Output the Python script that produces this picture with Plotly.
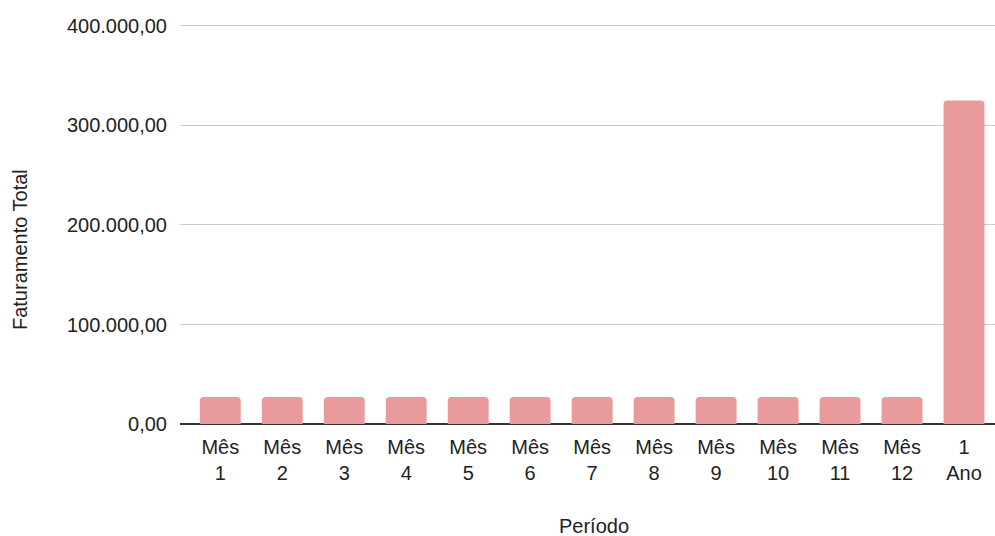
import plotly.graph_objects as go

categories = ["Mês<br>1", "Mês<br>2", "Mês<br>3", "Mês<br>4", "Mês<br>5", "Mês<br>6",
              "Mês<br>7", "Mês<br>8", "Mês<br>9", "Mês<br>10", "Mês<br>11", "Mês<br>12",
              "1<br>Ano"]
faturamento = [27083.33] * 12 + [325000]
y_tickvals = [0, 100000, 200000, 300000, 400000]
y_ticktext = ["0,00", "100.000,00", "200.000,00", "300.000,00", "400.000,00"]
x_title = "Período"
y_title = "Faturamento Total"

FONT = "Liberation Sans, Arial, sans-serif"
FS = 20

fig = go.Figure(go.Bar(
    x=list(range(len(categories))),
    y=faturamento,
    marker=dict(color="#e99a9a", cornerradius=4, line=dict(width=0)),
    width=0.66,
))

fig.update_layout(
    width=995, height=536,
    margin=dict(l=180, r=0, t=22, b=112),
    paper_bgcolor="white", plot_bgcolor="white",
    font=dict(family=FONT, size=FS, color="#222222"),
    showlegend=False,
    xaxis=dict(
        tickmode="array", tickvals=list(range(len(categories))), ticktext=categories,
        range=[-0.65, 12.5], showgrid=False, ticks="", showline=False, zeroline=False,
        tickfont=dict(size=FS), ticklabelstandoff=9,
    ),
    yaxis=dict(
        tickmode="array", tickvals=y_tickvals, ticktext=y_ticktext,
        range=[0, 404000], showgrid=True, gridcolor="#cccccc", gridwidth=1,
        zeroline=True, zerolinecolor="#333333", zerolinewidth=2,
        ticks="", ticklabelstandoff=12,
        tickfont=dict(size=FS),
    ),
    annotations=[
        dict(text=x_title, xref="paper", yref="paper", x=0.5076, y=-0.2537,
             xanchor="center", yanchor="middle", showarrow=False,
             font=dict(size=FS, family=FONT, color="#222222")),
        dict(text=y_title, xref="paper", yref="paper", x=-0.1963, y=0.4328,
             xanchor="center", yanchor="middle", showarrow=False, textangle=-90,
             font=dict(size=FS, family=FONT, color="#222222")),
    ],
)

fig.write_html("out.html")
